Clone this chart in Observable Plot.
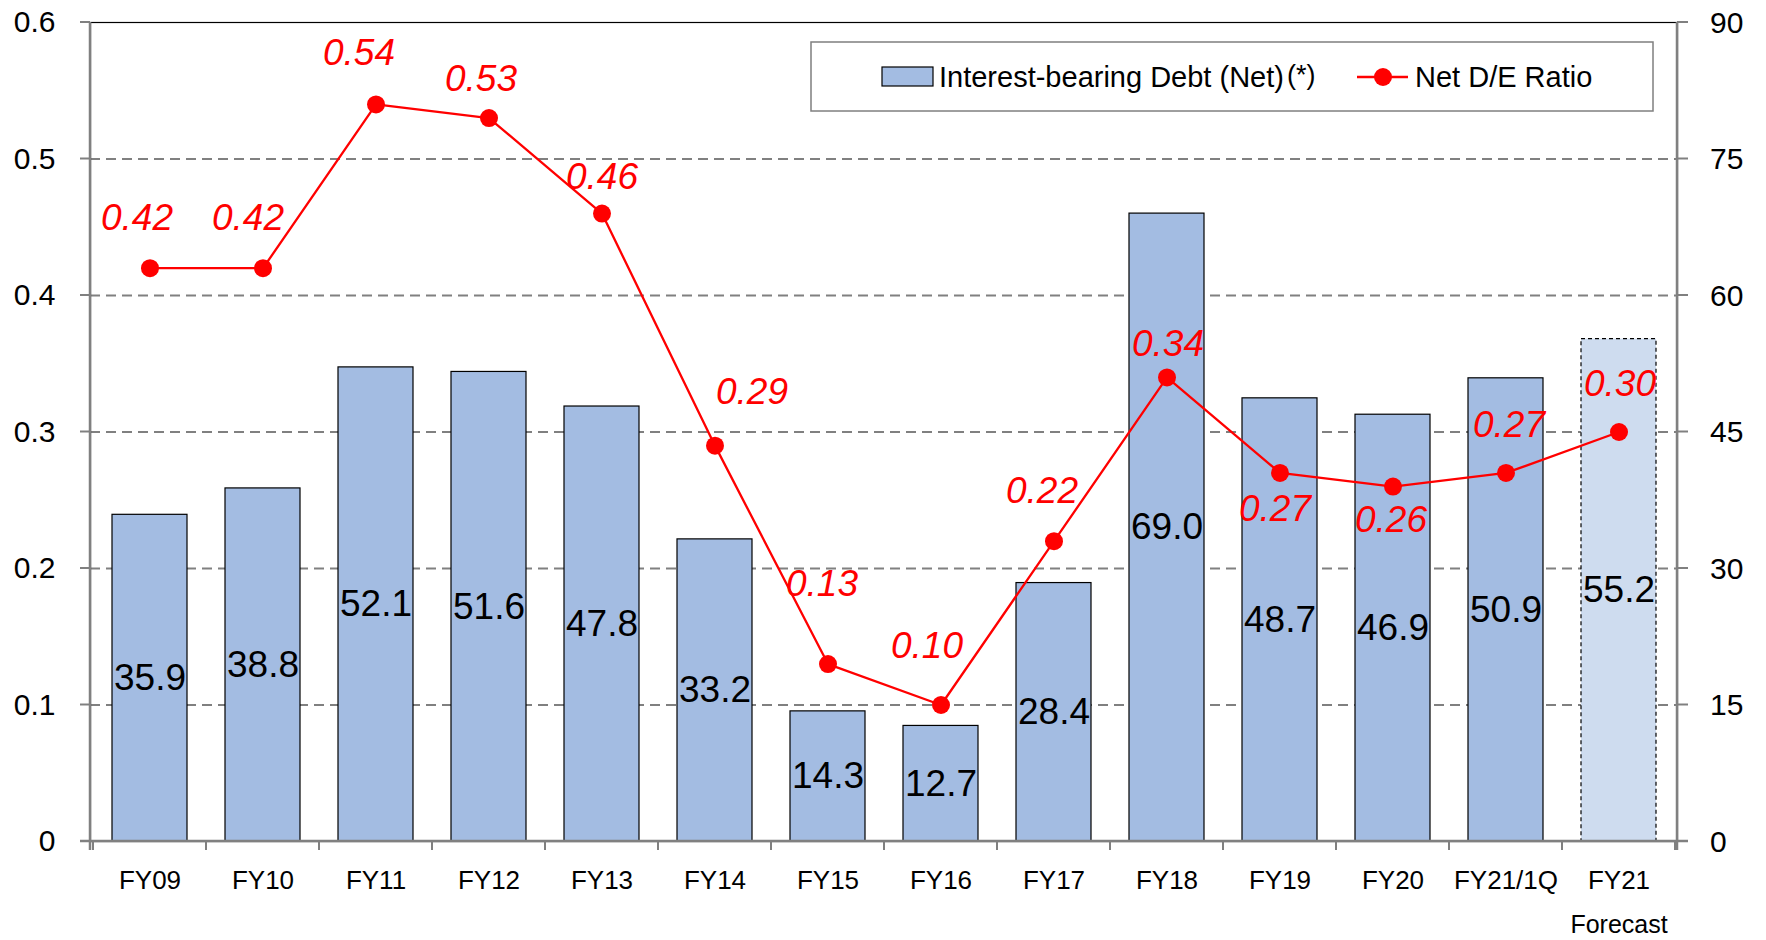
<!DOCTYPE html>
<html>
<head>
<meta charset="utf-8">
<script src="https://cdn.jsdelivr.net/npm/d3@7"></script>
<script src="https://cdn.jsdelivr.net/npm/@observablehq/plot@0.6"></script>
<style>
  html, body { margin: 0; padding: 0; background: #fff; }
  #chart { width: 1766px; height: 940px; }
</style>
</head>
<body>
<div id="chart"></div>
<script>
// ---- Data ----
const categories = ["FY09","FY10","FY11","FY12","FY13","FY14","FY15","FY16","FY17","FY18","FY19","FY20","FY21/1Q","FY21"];
const debt = [35.9, 38.8, 52.1, 51.6, 47.8, 33.2, 14.3, 12.7, 28.4, 69.0, 48.7, 46.9, 50.9, 55.2];
const deRatio = [0.42, 0.42, 0.54, 0.53, 0.46, 0.29, 0.13, 0.10, 0.22, 0.34, 0.27, 0.26, 0.27, 0.30];
const forecastCategory = "FY21";
const leftTicks = [0, 0.1, 0.2, 0.3, 0.4, 0.5, 0.6];
const leftTickLabels = ["0", "0.1", "0.2", "0.3", "0.4", "0.5", "0.6"];
const rightTicks = [0, 15, 30, 45, 60, 75, 90];
const seriesNames = ["Interest-bearing Debt (Net)", "Net D/E Ratio"];

// ---- Layout (label placement relative to each point, px) ----
const ratioLabelOffsets = [[-13,-50],[-15,-50],[-17,-51],[-8,-39],[0,-36],[37,-53],[-6,-80],[-14,-59],[-12,-50],[1,-33],[-5,36],[-2,34],[3,-48],[1,-48]];

const rightMax = rightTicks[rightTicks.length - 1];
const leftMax = leftTicks[leftTicks.length - 1];
const k = rightMax / leftMax; // right-axis units per left-axis unit

const rows = categories.map((c, i) => ({cat: c, debt: debt[i], ratio: deRatio[i], forecast: c === forecastCategory}));

const BAR = "#A3BCE2", BAR_FC = "#CEDCEF", GRID = "#808080", RED = "#FF0000";
const FONT = "'Liberation Sans', Arial, Helvetica, sans-serif";

const plot = Plot.plot({
  width: 1766,
  height: 940,
  marginLeft: 90,
  marginRight: 89,
  marginTop: 22,
  marginBottom: 99,
  style: {fontFamily: FONT, fontSize: "24px", background: "#fff", color: "#000"},
  x: {domain: categories, paddingInner: 0.34, paddingOuter: 0.17, label: null, axis: null},
  y: {domain: [0, leftMax], label: null, axis: null},
  marks: [
    Plot.gridY(leftTicks.slice(1, -1), {stroke: GRID, strokeOpacity: 1, strokeWidth: 2, strokeDasharray: "10,6"}),
    Plot.barY(rows.filter(d => !d.forecast), {x: "cat", y: d => d.debt / k, fill: BAR, stroke: "#000", strokeWidth: 1.2}),
    Plot.barY(rows.filter(d => d.forecast), {x: "cat", y: d => d.debt / k, fill: BAR_FC, stroke: "#000", strokeWidth: 1.2, strokeDasharray: "4,3"}),
    Plot.frame({stroke: "#000", strokeWidth: 1.2}),
    // left axis labels
    Plot.text(leftTicks, {y: d => d, text: (d, i) => leftTickLabels[i], frameAnchor: "left", dx: -35, textAnchor: "end", lineAnchor: "middle", fontSize: 30, fill: "#000"}),
    // x axis labels
    Plot.text(categories, {x: d => d, text: d => d, frameAnchor: "bottom", dy: 39, lineAnchor: "middle", fontSize: 26, fill: "#000"}),
    Plot.text(["Forecast"], {x: () => forecastCategory, text: d => d, frameAnchor: "bottom", dy: 83, lineAnchor: "middle", fontSize: 25, fill: "#000"}),
    // bar value labels
    Plot.text(rows, {x: "cat", y: d => d.debt / k / 2, text: d => d.debt.toFixed(1), fontSize: 37, fill: "#000"}),
    Plot.line(rows, {x: "cat", y: "ratio", stroke: RED, strokeWidth: 2.3}),
    Plot.dot(rows, {x: "cat", y: "ratio", r: 9, fill: RED, stroke: "none"}),
    ...rows.map((d, i) => Plot.text([d], {x: "cat", y: "ratio", text: r => r.ratio.toFixed(2),
      dx: ratioLabelOffsets[i][0], dy: ratioLabelOffsets[i][1], fontSize: 37, fontStyle: "italic", fill: RED}))
  ]
});

document.getElementById("chart").appendChild(plot);

// ---- Axis lines, ticks, right axis labels, legend ----
const svg = d3.select(plot);
const xs = plot.scale("x");
const ys = plot.scale("y");
const step = xs.step, bw = xs.bandwidth;
const x0 = 90, x1 = 1766 - 89, yTop = 22, yBot = 940 - 99;

const g = svg.append("g");
// gray axis lines
g.append("line").attr("x1", x0).attr("x2", x0).attr("y1", yTop).attr("y2", yBot + 9).attr("stroke", GRID).attr("stroke-width", 2.5);
g.append("line").attr("x1", x1).attr("x2", x1).attr("y1", yTop).attr("y2", yBot + 9).attr("stroke", GRID).attr("stroke-width", 2.5);
g.append("line").attr("x1", x0 - 10).attr("x2", x1 + 11).attr("y1", yBot).attr("y2", yBot).attr("stroke", GRID).attr("stroke-width", 2.5);
// y ticks (outward on both sides)
leftTicks.forEach(t => {
  const y = ys.apply(t);
  g.append("line").attr("x1", x0 - 10).attr("x2", x0).attr("y1", y).attr("y2", y).attr("stroke", GRID).attr("stroke-width", 2);
  g.append("line").attr("x1", x1).attr("x2", x1 + 11).attr("y1", y).attr("y2", y).attr("stroke", GRID).attr("stroke-width", 2);
});
// right axis labels (secondary scale = left scale × k)
const rg = svg.append("g").attr("font-family", FONT).attr("font-size", 30).attr("text-anchor", "start");
rightTicks.forEach(t => {
  rg.append("text").attr("x", x1 + 33).attr("y", ys.apply(t / k)).attr("dy", "0.36em")
    .attr("text-anchor", "start").attr("fill", "#000").text(String(t));
});
// category boundary ticks
const bounds = categories.map(c => xs.apply(c) - (step - bw) / 2);
bounds.push(bounds[bounds.length - 1] + step);
bounds.forEach(b => {
  g.append("line").attr("x1", b).attr("x2", b).attr("y1", yBot).attr("y2", yBot + 9).attr("stroke", GRID).attr("stroke-width", 2);
});

// legend
const lg = svg.append("g").attr("font-family", FONT).attr("text-anchor", "start");
lg.append("rect").attr("x", 811).attr("y", 42).attr("width", 842).attr("height", 69)
  .attr("fill", "#fff").attr("stroke", "#7f7f7f").attr("stroke-width", 1.5);
lg.append("rect").attr("x", 882).attr("y", 67).attr("width", 51).attr("height", 19)
  .attr("fill", BAR).attr("stroke", "#000").attr("stroke-width", 1.2);
const t1 = lg.append("text").attr("x", 939).attr("y", 87).attr("font-size", 29).attr("fill", "#000").attr("text-anchor", "start");
t1.append("tspan").text(seriesNames[0]);
t1.append("tspan").attr("dx", 3).attr("dy", -3).attr("font-size", 27).text("(*)");
lg.append("line").attr("x1", 1357).attr("x2", 1408).attr("y1", 77).attr("y2", 77).attr("stroke", RED).attr("stroke-width", 2.5);
lg.append("circle").attr("cx", 1383).attr("cy", 77).attr("r", 9).attr("fill", RED);
lg.append("text").attr("x", 1415).attr("y", 87).attr("font-size", 29).attr("fill", "#000").attr("text-anchor", "start").text(seriesNames[1]);
</script>
</body>
</html>
